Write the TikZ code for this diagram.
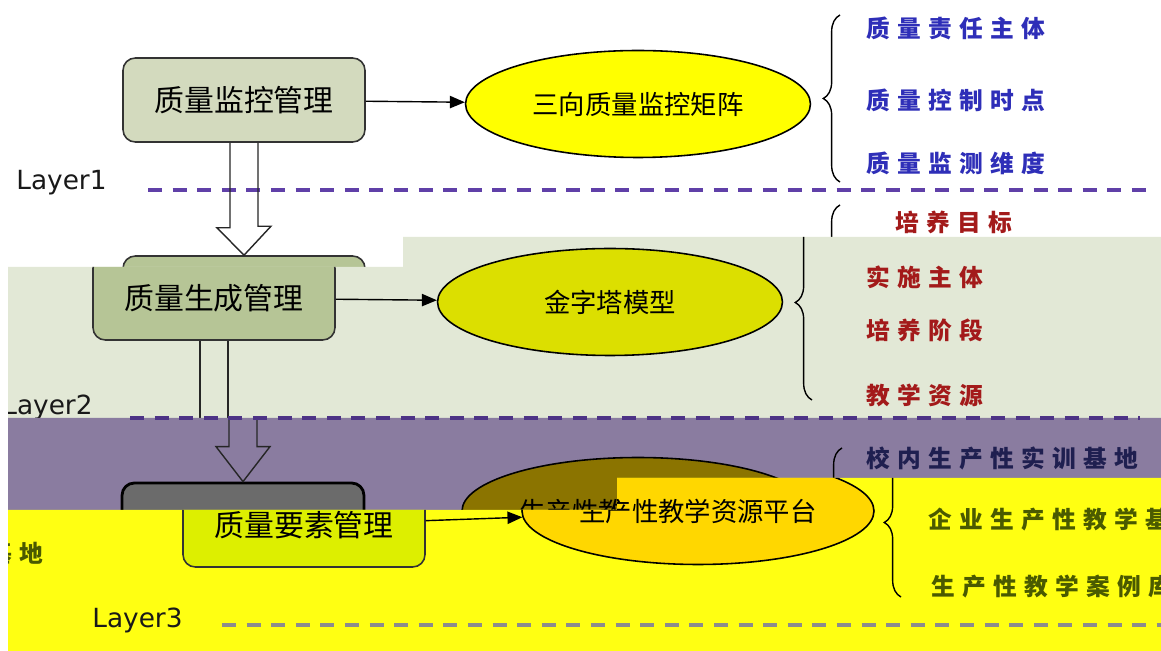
\documentclass[tikz,border=0pt]{standalone}
\usepackage{fontspec}
\newfontfamily\cjk{Noto Sans CJK SC}
\newfontfamily\cjkwide[LetterSpace=31]{Noto Sans CJK SC}
\newfontfamily\layerfont{DejaVu Sans}
\usetikzlibrary{shapes.geometric,arrows.meta,decorations.pathreplacing,calc}
\definecolor{boxone}{HTML}{D3DABE}
\definecolor{boxtwo}{HTML}{B6C596}
\definecolor{boxthree}{HTML}{DDEF00}
\definecolor{ovalone}{HTML}{FFFF00}
\definecolor{ovaltwo}{HTML}{DCDF00}
\definecolor{ovalthree}{HTML}{FFD700}
\definecolor{bandtwo}{HTML}{E2E8D6}
\definecolor{bandthree}{HTML}{8A7CA0}
\definecolor{bandfour}{HTML}{FFFF12}
\definecolor{ghostbox}{HTML}{6B6B6B}
\definecolor{ghostoval}{HTML}{8B7400}
\definecolor{blueitem}{HTML}{2E2EB8}
\definecolor{reditem}{HTML}{A31A1A}
\definecolor{navyitem}{HTML}{1F1F50}
\definecolor{oliveitem}{HTML}{4A5A00}
\definecolor{levelpurple}{HTML}{6040A8}
\definecolor{levelgrey}{HTML}{8C8C8C}
\begin{document}
\begin{tikzpicture}[x=0.02cm,y=-0.02cm,
    box/.style={draw=black!80, line width=0.9pt, rounded corners=7pt,
        minimum width=4.84cm, minimum height=1.68cm,
        font=\cjk\fontsize{17}{20}\selectfont},
    oval/.style={ellipse, draw, line width=0.9pt, minimum width=6.9cm,
        minimum height=2.14cm, font=\cjk\fontsize{15}{18}\selectfont},
    item/.style={anchor=west, inner sep=0pt,
        font=\cjkwide\bfseries\fontsize{13.5}{16}\selectfont},
    layer/.style={anchor=west, inner sep=0pt, text=black!90,
        font=\layerfont\fontsize{15}{18}\selectfont},
    arr/.style={-{Triangle[length=8.5pt,width=7pt]}, line width=0.8pt},
    hollow/.style={line width=0.8pt, draw=black!85},
    curly/.style={decorate, decoration={brace, amplitude=9.5pt}, line width=0.8pt},
    level/.style={dash pattern=on 8pt off 6pt, line width=2pt}]
    \useasboundingbox (0,0) rectangle (1161,651);
    \fill[white] (0,0) rectangle (1161,651);

    % layer 1
    \node[box, fill=boxone] (box1) at (244,100) {质量监控管理};
    \node[oval, fill=ovalone] (ell1) at (638,104) {三向质量监控矩阵};
    \draw[arr] (box1) -- (ell1);
    \draw[curly] (840,182) -- (840,15);
    \node[item, text=blueitem] (m1) at (866,28) {质量责任主体};
    \node[item, text=blueitem] (m2) at (866,100) {质量控制时点};
    \node[item, text=blueitem] (m3) at (866,163) {质量监测维度};
    \node[layer] (lay1) at (16,183) {Layer1};
    \draw[level, draw=levelpurple] (148,190) -- (1148,190);
    \node[box, fill=boxtwo] (box2g) at (244,298) {};
    \draw[hollow] ($(box1.south)+(-14,0)$) --++ (0,85) --++ (-13,0)
          -- (box2g.north) --++ (27,-29) --++ (-13,0) -- ($(box1.south)+(14,0)$);
    \draw[curly] (840,400) -- (840,205);
    \node[item, text=reditem] (g1) at (895,222) {培养目标};

    % layer 2
    \begin{scope}
    \clip (8,267) -| (403,237) -| (1161,418) -| (8,267);
    \fill[bandtwo] (0,230) rectangle (1161,420);
    \node[box, fill=boxtwo] (box2) at (214,298) {质量生成管理};
    \node[oval, fill=ovaltwo] (ell2) at (610,302) {金字塔模型};
    \draw[arr] (box2) -- (ell2);
    \draw[hollow] ($(box2.south)+(-14,0)$) --++ (0,80);
    \draw[hollow] ($(box2.south)+(14,0)$) --++ (0,80);
    \draw[curly] (812,400) -- (812,205);
    \node[item, text=reditem] (g2) at (866,277) {实施主体};
    \node[item, text=reditem] (g3) at (866,330) {培养阶段};
    \node[item, text=reditem] (g4) at (866,395) {教学资源};
    \node[layer] (lay2) at (2,407) {Layer2};
    \end{scope}

    % layer 3
    \begin{scope}
    \clip (8,418) -| (1161,478) -| (617,510) -| (8,418);
    \fill[bandthree] (0,410) rectangle (1161,520);
    \node[box, fill=ghostbox, draw=black, line width=1.6pt] (box3g) at (243,525) {};
    \node[oval, fill=ghostoval] (ell3g) at (638,511) {生产性教学资源平台};
    \draw[hollow] ($(box3g.north)+(-14,-64)$) --++ (0,29) --++ (-13,0)
          -- (box3g.north) --++ (27,-35) --++ (-13,0) --++ (0,-29);
    \draw[curly] (842,597) -- (842,448);
    \node[item, text=navyitem] (s1) at (866,458) {校内生产性实训基地};
    \end{scope}
    \draw[level, draw=levelpurple!80!black] (130,418) -- (1140,418);

    \begin{scope}
    \clip (8,510) -| (617,478) -| (1161,651) -| (8,510);
    \fill[bandfour] (0,470) rectangle (1161,651);
    \node[box, fill=boxthree] (box3) at (304,525) {质量要素管理};
    \node[oval, fill=ovalthree] (ell3) at (698,511) {生产性教学资源平台};
    \draw[arr] (box3) -- (ell3);
    \draw[curly] (901,597) -- (901,448);
    \node[item, text=oliveitem] (s2) at (928,520) {企业生产性教学基地};
    \node[item, text=oliveitem, anchor=east] (s2w) at (44,553) {基地};
    \node[item, text=oliveitem] (s3) at (931,587) {生产性教学案例库};
    \node[layer] (lay3) at (92,620) {Layer3};
    \draw[level, draw=levelgrey] (222,625) -- (1161,625);
    \end{scope}
\end{tikzpicture}
\end{document}
